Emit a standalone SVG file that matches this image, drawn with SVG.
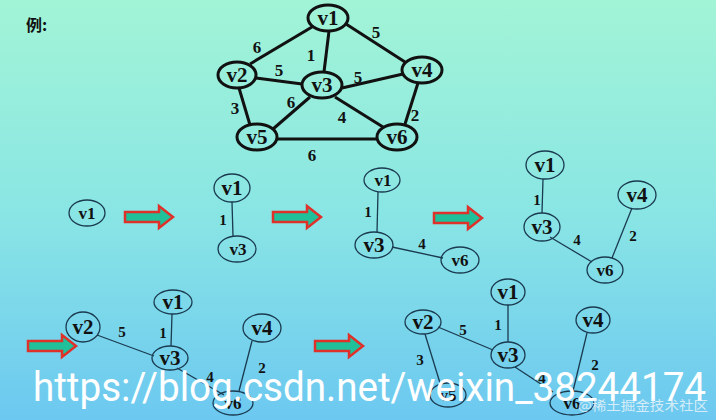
<svg xmlns="http://www.w3.org/2000/svg" width="716" height="420" viewBox="0 0 716 420">
<defs>
<linearGradient id="bg" x1="0" y1="0" x2="0" y2="1">
<stop offset="0" stop-color="#a2f4d6"/>
<stop offset="0.5" stop-color="#8ae6e4"/>
<stop offset="1" stop-color="#6cc8f0"/>
</linearGradient>
<path id="arrow" d="M0,-5 H34 V-11 L48,0 L34,11 V5 H0 Z"/>
</defs>
<style>
.big ellipse{fill:none;stroke:#111;stroke-width:3}
.big line{stroke:#111;stroke-width:3}
.sm ellipse{fill:none;stroke:#1a3a50;stroke-width:1.3}
.conn line{stroke:#1a3a50;stroke-width:1.3}
.nl{font-family:"Liberation Serif",serif;font-weight:bold;text-anchor:middle;fill:#111}
.bl{font-size:21px}
.sl{font-size:17px}
.wl{font-family:"Liberation Serif",serif;font-weight:bold;text-anchor:middle;fill:#111}
.arr use{fill:#1fc09a;stroke:#e0302a;stroke-width:2.5}
.wm{font-family:Roboto,"Liberation Sans",sans-serif;fill:#fff}
</style>
<rect width="716" height="420" fill="url(#bg)"/>
<text x="26" y="31" font-family="Noto Sans CJK SC,sans-serif" font-weight="bold" font-size="16" fill="#111">例:</text>

<!-- main graph -->
<g class="big">
<g id="connectors-main">
<line x1="312" y1="27" x2="250" y2="64"/>
<line x1="346" y1="24" x2="405" y2="62"/>
<line x1="329" y1="31" x2="324" y2="72"/>
<line x1="256" y1="78" x2="302" y2="84"/>
<line x1="342" y1="88" x2="403" y2="74"/>
<line x1="239" y1="88" x2="250" y2="125"/>
<line x1="310" y1="97" x2="273" y2="129"/>
<line x1="335" y1="97" x2="383" y2="127"/>
<line x1="418" y1="83" x2="405" y2="124"/>
<line x1="277" y1="139" x2="377" y2="139"/>
</g>
<g id="m-v1"><ellipse cx="328" cy="18" rx="20" ry="13"/><text class="nl bl" x="328" y="25">v1</text></g>
<g id="m-v2"><ellipse cx="237" cy="75" rx="19" ry="13"/><text class="nl bl" x="237" y="82">v2</text></g>
<g id="m-v3"><ellipse cx="322" cy="85" rx="20" ry="13"/><text class="nl bl" x="322" y="92">v3</text></g>
<g id="m-v4"><ellipse cx="422" cy="70" rx="20" ry="13"/><text class="nl bl" x="422" y="77">v4</text></g>
<g id="m-v5"><ellipse cx="257" cy="137" rx="20" ry="13"/><text class="nl bl" x="257" y="144">v5</text></g>
<g id="m-v6"><ellipse cx="397" cy="137" rx="20" ry="13"/><text class="nl bl" x="397" y="144">v6</text></g>
<g class="wl" font-size="17">
<text x="257" y="53">6</text>
<text x="376" y="38">5</text>
<text x="311" y="61">1</text>
<text x="279" y="76">5</text>
<text x="358" y="83">5</text>
<text x="235" y="114">3</text>
<text x="291" y="108">6</text>
<text x="342" y="123">4</text>
<text x="415" y="121">2</text>
<text x="312" y="161">6</text>
</g>
</g>

<!-- arrows -->
<g class="arr">
<use href="#arrow" x="125" y="217"/>
<use href="#arrow" x="273" y="217"/>
<use href="#arrow" x="434" y="218"/>
<use href="#arrow" x="28" y="346"/>
<use href="#arrow" x="315" y="346"/>
</g>

<!-- connectors for steps -->
<g class="conn" id="connectors">
<line x1="232" y1="202" x2="233" y2="236"/>
<line x1="378" y1="192" x2="377" y2="232"/>
<line x1="392" y1="247" x2="443" y2="258"/>
<line x1="543" y1="179" x2="542" y2="213"/>
<line x1="550" y1="237" x2="592" y2="262"/>
<line x1="632" y1="208" x2="612" y2="258"/>
<line x1="97" y1="335" x2="154" y2="356"/>
<line x1="172" y1="314" x2="171" y2="346"/>
<line x1="177" y1="368" x2="224" y2="395"/>
<line x1="252" y1="341" x2="239" y2="391"/>
<line x1="438" y1="327" x2="493" y2="350"/>
<line x1="508" y1="305" x2="508" y2="342"/>
<line x1="425" y1="334" x2="440" y2="383"/>
<line x1="515" y1="367" x2="553" y2="392"/>
<line x1="587" y1="333" x2="573" y2="391"/>
</g>

<g class="sm">
<!-- step 1 -->
<g id="s1-v1"><ellipse cx="87" cy="213" rx="18" ry="13"/><text class="nl sl" x="87" y="219">v1</text></g>
<!-- step 2 -->
<g id="s2-v1"><ellipse cx="232" cy="188" rx="18" ry="14"/><text class="nl bl" x="232" y="195">v1</text></g>
<g id="s2-v3"><ellipse cx="237" cy="249" rx="19" ry="13"/><text class="nl sl" x="238" y="255">v3</text></g>
<!-- step 3 -->
<g id="s3-v1"><ellipse cx="382" cy="180" rx="18" ry="12"/><text class="nl sl" x="383" y="186">v1</text></g>
<g id="s3-v3"><ellipse cx="374" cy="245" rx="19" ry="13"/><text class="nl bl" x="374" y="252">v3</text></g>
<g id="s3-v6"><ellipse cx="460" cy="260" rx="19" ry="13"/><text class="nl sl" x="460" y="266">v6</text></g>
<!-- step 4 -->
<g id="s4-v1"><ellipse cx="545" cy="165" rx="19" ry="14"/><text class="nl bl" x="545" y="172">v1</text></g>
<g id="s4-v3"><ellipse cx="542" cy="227" rx="18" ry="14"/><text class="nl bl" x="542" y="234">v3</text></g>
<g id="s4-v4"><ellipse cx="637" cy="195" rx="19" ry="14"/><text class="nl bl" x="637" y="202">v4</text></g>
<g id="s4-v6"><ellipse cx="605" cy="270" rx="18" ry="13"/><text class="nl sl" x="605" y="276">v6</text></g>
<!-- step 5 -->
<g id="s5-v2"><ellipse cx="83" cy="327" rx="17" ry="15"/><text class="nl bl" x="83" y="334">v2</text></g>
<g id="s5-v1"><ellipse cx="173" cy="302" rx="19" ry="12"/><text class="nl bl" x="173" y="309">v1</text></g>
<g id="s5-v3"><ellipse cx="170" cy="358" rx="18" ry="12"/><text class="nl bl" x="170" y="365">v3</text></g>
<g id="s5-v4"><ellipse cx="262" cy="328" rx="19" ry="14"/><text class="nl bl" x="262" y="335">v4</text></g>
<g id="s5-v6"><ellipse cx="233" cy="403" rx="20" ry="12"/><text class="nl sl" x="233" y="409">v6</text></g>
<!-- step 6 -->
<g id="s6-v1"><ellipse cx="508" cy="292" rx="17" ry="13"/><text class="nl bl" x="508" y="299">v1</text></g>
<g id="s6-v2"><ellipse cx="423" cy="322" rx="18" ry="12"/><text class="nl bl" x="423" y="329">v2</text></g>
<g id="s6-v3"><ellipse cx="508" cy="355" rx="17" ry="13"/><text class="nl bl" x="508" y="362">v3</text></g>
<g id="s6-v4"><ellipse cx="593" cy="320" rx="17" ry="13"/><text class="nl bl" x="593" y="327">v4</text></g>
<g id="s6-v5"><ellipse cx="448" cy="395" rx="18" ry="12"/><text class="nl sl" x="448" y="401">v5</text></g>
<g id="s6-v6"><ellipse cx="572" cy="403" rx="22" ry="12"/><text class="nl sl" x="572" y="409">v6</text></g>
</g>

<!-- weights -->
<g class="wl" font-size="15">
<text x="223" y="225">1</text>
<text x="368" y="217">1</text>
<text x="422" y="249">4</text>
<text x="537" y="205">1</text>
<text x="577" y="245">4</text>
<text x="633" y="241">2</text>
<text x="122" y="337">5</text>
<text x="163" y="338">1</text>
<text x="210" y="382">4</text>
<text x="262" y="373">2</text>
<text x="463" y="335">5</text>
<text x="498" y="330">1</text>
<text x="420" y="365">3</text>
<text x="542" y="383">4</text>
<text x="595" y="370">2</text>
</g>

<!-- watermark -->
<text class="wm" x="33" y="401" font-size="40" textLength="673" lengthAdjust="spacingAndGlyphs">https://blog.csdn.net/weixin_38244174</text>
<text x="578" y="410" font-family="Noto Sans CJK SC,sans-serif" font-size="13" fill="#e8f4fa" fill-opacity="0.85" textLength="130" lengthAdjust="spacingAndGlyphs">@稀土掘金技术社区</text>
</svg>
